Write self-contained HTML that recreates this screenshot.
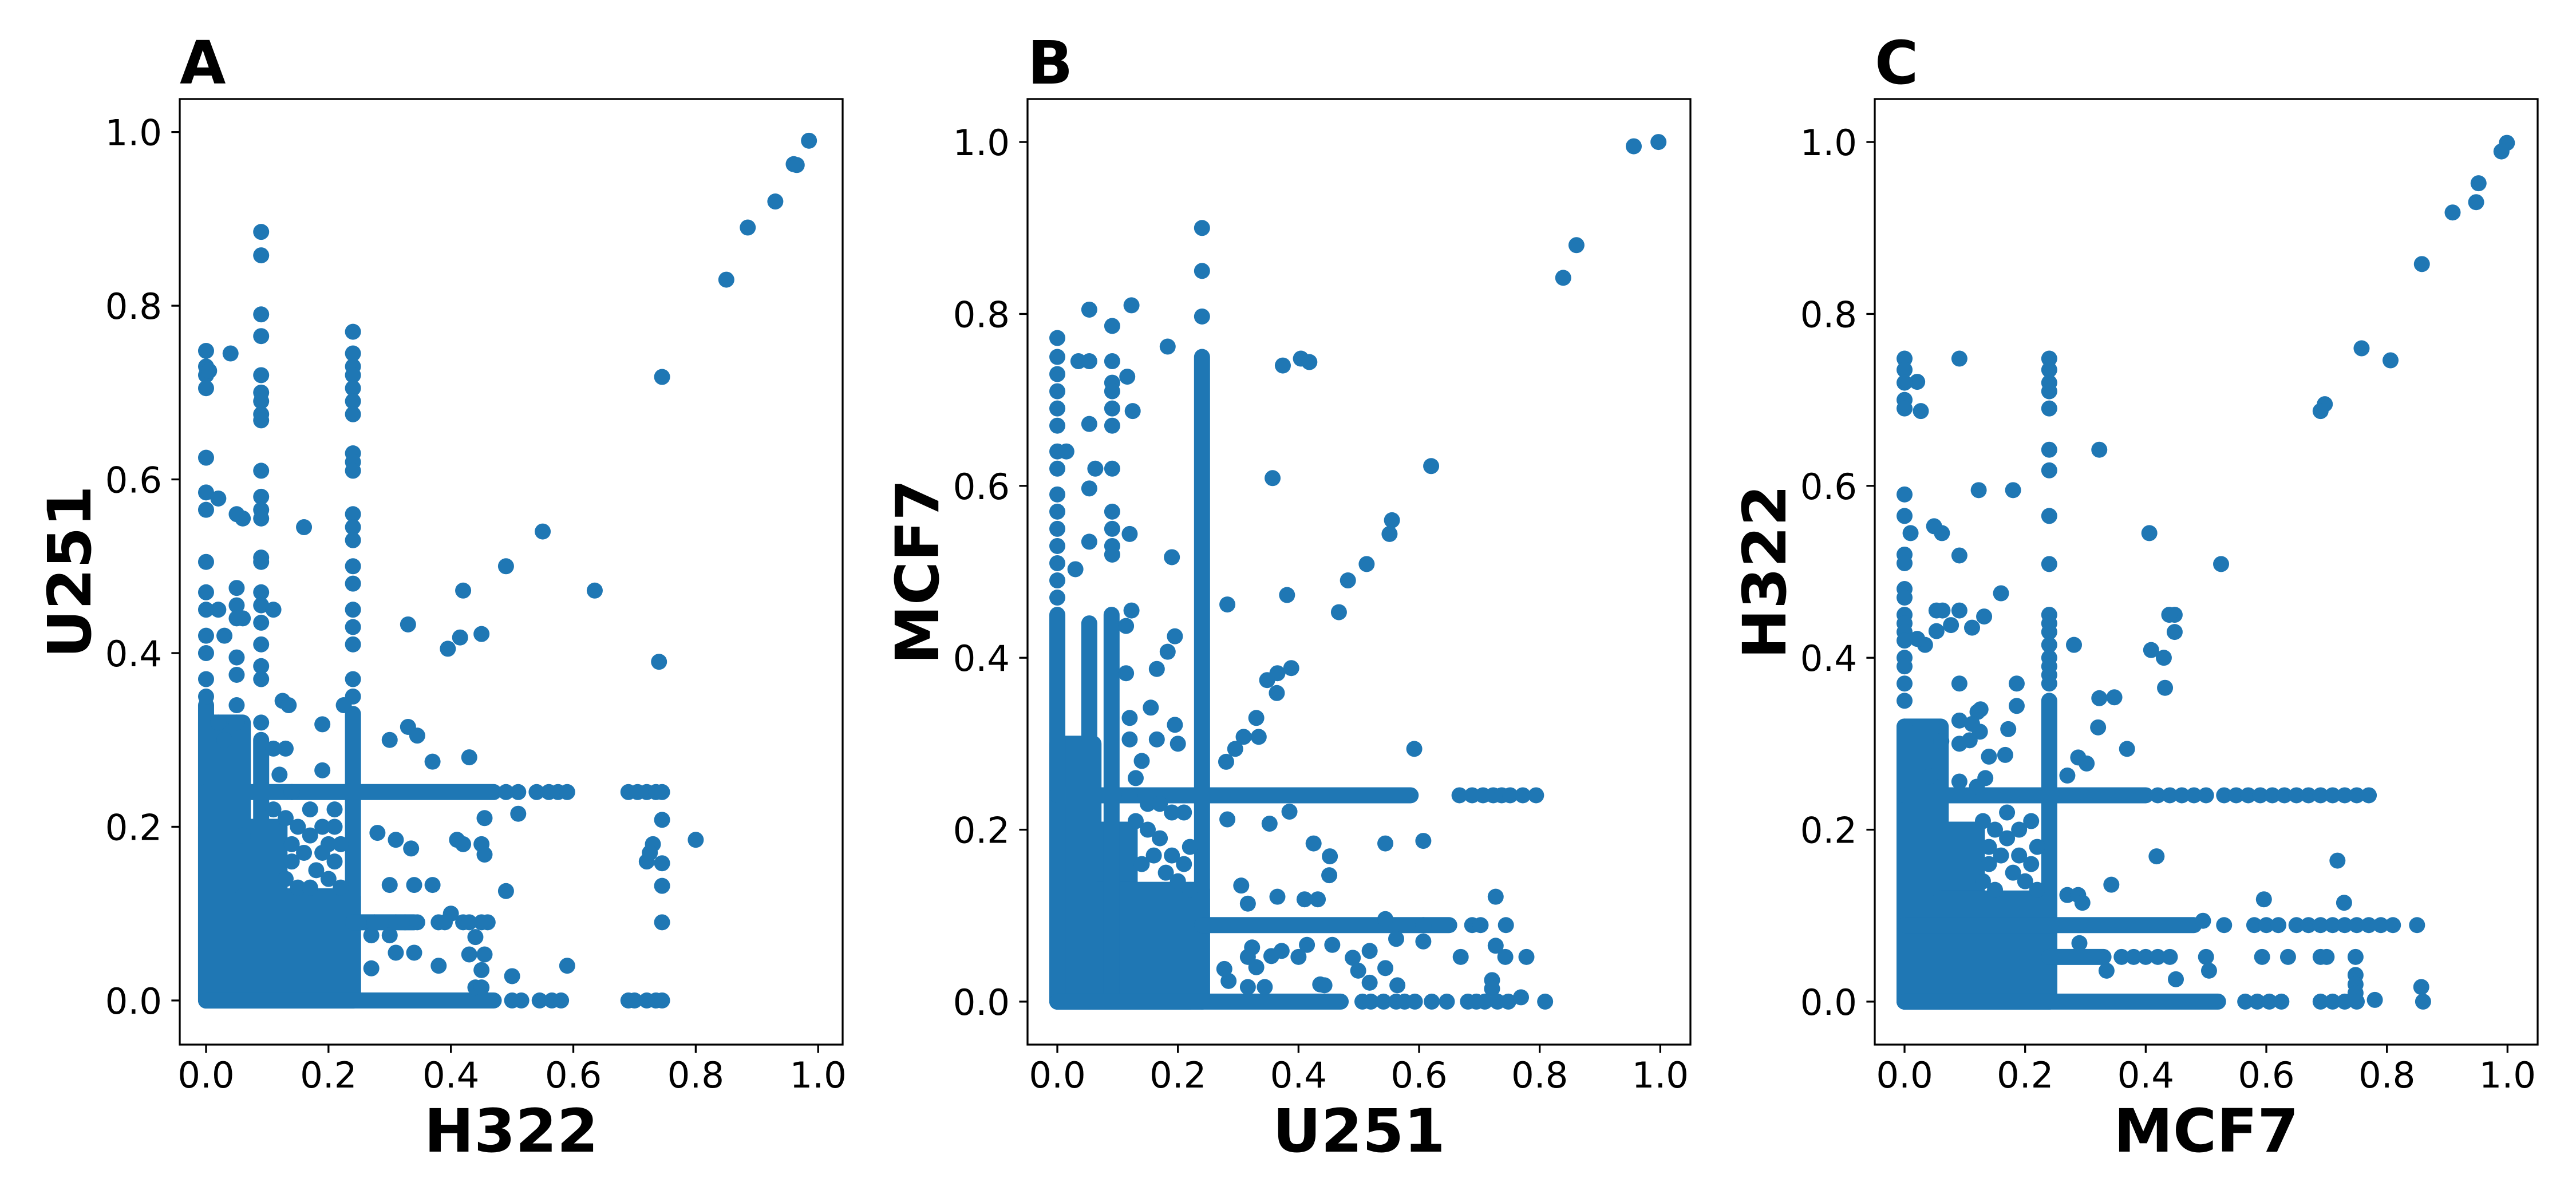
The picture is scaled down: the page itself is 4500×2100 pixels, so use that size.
<!DOCTYPE html>
<html><head><meta charset="utf-8">
<style>
html,body{margin:0;padding:0;background:#fff;}
svg{display:block;}
text{font-family:"DejaVu Sans","Liberation Sans",sans-serif;fill:#000;}
</style></head>
<body>
<svg id="fig" width="4500" height="2100" viewBox="0 0 4500 2100" xmlns="http://www.w3.org/2000/svg"></svg>
<script>
// ---------- DATA ----------
const ticks = [0, 0.2, 0.4, 0.6, 0.8, 1.0];
const tickLabels = ["0.0", "0.2", "0.4", "0.6", "0.8", "1.0"];

// Panel A: x = H322, y = U251
const blocksA = [[0,0.06,0,0.32],[0,0.24,0,0.09],[0,0.12,0,0.2],[0.06,0.24,0,0.12]];
const vLinesA = [[0,0,0.34],[0.09,0,0.3],[0.24,0,0.33]];
const hLinesA = [[0.24,0,0.47],[0,0,0.47],[0.09,0.24,0.34]];
const pointsA = [
[0.09,0.885],[0.09,0.858],[0.09,0.79],[0.09,0.765],[0.09,0.72],[0.09,0.70],[0.09,0.69],[0.09,0.675],[0.09,0.668],[0.09,0.61],[0.09,0.58],[0.09,0.565],[0.09,0.555],[0.09,0.51],[0.09,0.505],[0.09,0.47],[0.09,0.455],[0.09,0.435],[0.09,0.41],[0.09,0.385],[0.09,0.37],[0.09,0.32],
[0.24,0.77],[0.24,0.745],[0.24,0.73],[0.24,0.72],[0.24,0.705],[0.24,0.69],[0.24,0.675],[0.24,0.63],[0.24,0.62],[0.24,0.61],[0.24,0.56],[0.24,0.545],[0.24,0.53],[0.24,0.50],[0.24,0.48],[0.24,0.45],[0.24,0.43],[0.24,0.41],[0.24,0.37],[0.24,0.35],
[0,0.748],[0,0.73],[0,0.72],[0,0.705],[0,0.625],[0,0.585],[0,0.565],[0,0.505],[0,0.47],[0,0.45],[0,0.42],[0,0.40],[0,0.37],[0,0.35],
[0.04,0.745],[0.005,0.725],[0.02,0.578],[0.05,0.56],[0.06,0.555],[0.16,0.545],[0.55,0.54],[0.49,0.50],[0.42,0.472],[0.635,0.472],[0.33,0.433],[0.45,0.422],[0.415,0.418],[0.395,0.405],[0.745,0.718],[0.74,0.39],
[0.85,0.83],[0.885,0.89],[0.93,0.92],[0.96,0.963],[0.965,0.962],[0.985,0.99],
[0.02,0.45],[0.03,0.42],[0.05,0.475],[0.05,0.455],[0.05,0.44],[0.06,0.44],[0.05,0.395],[0.05,0.375],[0.05,0.34],[0.05,0.32],[0.11,0.45],[0.125,0.345],[0.135,0.34],[0.19,0.318],[0.225,0.34],[0.33,0.315],[0.345,0.305],[0.19,0.265],[0.37,0.275],[0.43,0.28],[0.3,0.30],
[0.28,0.193],[0.31,0.185],[0.335,0.175],[0.41,0.185],[0.42,0.18],[0.45,0.18],[0.455,0.168],[0.455,0.21],[0.51,0.215],[0.3,0.133],[0.34,0.133],[0.37,0.133],[0.49,0.126],[0.40,0.10],[0.38,0.09],[0.42,0.09],[0.45,0.09],[0.44,0.073],[0.43,0.053],[0.455,0.053],[0.45,0.035],[0.34,0.055],[0.31,0.055],[0.27,0.075],[0.30,0.075],[0.27,0.037],[0.38,0.04],[0.59,0.04],[0.50,0.028],
[0.80,0.185],[0.745,0.208],[0.73,0.18],[0.72,0.16],[0.745,0.158],[0.745,0.132],[0.745,0.09],[0.725,0.17],[0.44,0.015],[0.45,0.015],
[0.49,0.24],[0.51,0.24],[0.54,0.24],[0.56,0.24],[0.575,0.24],[0.59,0.24],[0.69,0.24],[0.705,0.24],[0.72,0.24],[0.735,0.24],[0.745,0.24],
[0.50,0],[0.515,0],[0.545,0],[0.565,0],[0.58,0],[0.69,0],[0.70,0],[0.72,0],[0.735,0],[0.745,0],
[0.275,0.09],[0.31,0.09],[0.325,0.09],[0.345,0.09],[0.39,0.09],[0.43,0.09],[0.46,0.09],
[0.17,0.22],[0.2,0.18],[0.19,0.2],[0.21,0.2],[0.14,0.24],[0.13,0.29],[0.11,0.29],[0.03,0.3],[0.02,0.32],[0.06,0.19],
[0.13,0.21],[0.15,0.2],[0.17,0.19],[0.19,0.17],[0.21,0.16],[0.16,0.17],[0.14,0.16],[0.18,0.15],[0.2,0.14],[0.22,0.13],[0.13,0.14],[0.15,0.13],[0.22,0.18],[0.17,0.13],[0.14,0.18],[0.21,0.22],[0.12,0.26],[0.11,0.22]
];

// Panel B: x = U251, y = MCF7
const blocksB = [[0,0.22,0,0.1],[0,0.06,0,0.3],[0,0.12,0,0.2],[0.06,0.24,0,0.13]];
const vLinesB = [[0,0,0.45],[0.053,0,0.44],[0.09,0,0.45],[0.24,0,0.75]];
const hLinesB = [[0.24,0,0.586],[0,0,0.47],[0.089,0.24,0.65]];
const pointsB = [
[0.956,0.995],[0.997,1.0],[0.861,0.88],[0.839,0.842],[0.24,0.90],[0.24,0.85],[0.24,0.797],[0.053,0.805],[0.091,0.786],[0.123,0.81],[0,0.772],[0.183,0.762],[0.374,0.74],[0.404,0.748],[0.418,0.744],[0.62,0.623],[0.357,0.609],[0.555,0.56],[0.551,0.544],[0.513,0.509],[0.482,0.49],[0.467,0.453],[0.381,0.473],[0.282,0.462],[0.592,0.294],[0.19,0.517],[0.12,0.544],[0.053,0.535],[0.03,0.503],[0.063,0.62],[0.053,0.597],[0.116,0.727],[0.125,0.687],[0.053,0.672],[0.035,0.745],[0.053,0.745],[0.091,0.745],[0.015,0.64],
[0.388,0.388],[0.365,0.382],[0.348,0.374],[0.364,0.359],[0.33,0.33],[0.334,0.308],[0.309,0.308],[0.295,0.294],[0.28,0.279],[0.195,0.425],[0.183,0.407],[0.165,0.387],[0.155,0.342],[0.195,0.322],[0.12,0.33],[0.12,0.305],[0.165,0.305],[0.2,0.3],[0.114,0.382],[0.114,0.437],[0.123,0.455],
[0.282,0.212],[0.352,0.207],[0.385,0.221],[0.425,0.184],[0.452,0.169],[0.451,0.147],[0.544,0.184],[0.607,0.187],[0.727,0.122],[0.305,0.135],[0.365,0.122],[0.41,0.119],[0.432,0.119],[0.316,0.114],[0.544,0.096],
[0.607,0.089],[0.688,0.089],[0.702,0.089],[0.744,0.089],[0.562,0.073],[0.607,0.07],[0.727,0.065],[0.743,0.052],[0.778,0.052],[0.669,0.052],[0.518,0.059],[0.49,0.051],[0.499,0.036],[0.544,0.039],[0.518,0.022],[0.564,0.019],[0.721,0.025],[0.721,0.015],[0.456,0.066],[0.414,0.066],[0.323,0.063],[0.316,0.052],[0.33,0.04],[0.355,0.053],[0.372,0.059],[0.4,0.052],[0.436,0.02],[0.443,0.019],[0.316,0.017],[0.344,0.017],[0.284,0.024],[0.277,0.038],
[0.506,0],[0.52,0],[0.541,0],[0.562,0],[0.576,0],[0.593,0],[0.621,0],[0.646,0],[0.681,0],[0.695,0],[0.709,0],[0.73,0],[0.748,0],[0.769,0.005],[0.809,0],
[0.667,0.24],[0.688,0.24],[0.706,0.24],[0.723,0.24],[0.737,0.24],[0.751,0.24],[0.772,0.24],[0.794,0.24],
[0,0.75],[0,0.73],[0,0.71],[0,0.69],[0,0.67],[0,0.64],[0,0.62],[0,0.59],[0,0.57],[0,0.55],[0,0.53],[0,0.51],[0,0.49],[0,0.47],
[0.091,0.72],[0.091,0.71],[0.091,0.69],[0.091,0.67],[0.091,0.62],[0.091,0.57],[0.091,0.55],[0.091,0.53],[0.091,0.52],
[0.13,0.21],[0.15,0.2],[0.17,0.19],[0.19,0.17],[0.21,0.16],[0.16,0.17],[0.14,0.16],[0.18,0.15],[0.2,0.14],[0.22,0.13],[0.13,0.26],[0.15,0.23],[0.22,0.18],[0.17,0.23],[0.14,0.28],[0.21,0.22],[0.12,0.24],[0.19,0.22]
];

// Panel C: x = MCF7, y = H322
const blocksC = [[0,0.24,0,0.1],[0,0.06,0,0.32],[0,0.12,0,0.2],[0.06,0.24,0,0.12]];
const vLinesC = [[0,0,0.32],[0.24,0,0.35]];
const hLinesC = [[0.24,0,0.4],[0.089,0,0.48],[0,0,0.52],[0.052,0.24,0.33]];
const pointsC = [
[0.999,0.999],[0.99,0.989],[0.952,0.952],[0.948,0.93],[0.909,0.918],[0.858,0.858],[0.758,0.76],[0.806,0.746],[0.697,0.695],[0.69,0.687],[0.525,0.509],[0.406,0.545],[0.323,0.642],[0.24,0.642],[0.24,0.618],[0.24,0.565],[0.24,0.509],[0.091,0.748],[0.123,0.595],[0.18,0.595],[0.16,0.475],[0.049,0.553],[0.062,0.545],[0.091,0.519],[0.01,0.545],[0,0.565],[0,0.59],[0.021,0.721],[0.027,0.687],
[0.448,0.45],[0.439,0.45],[0.448,0.43],[0.409,0.409],[0.43,0.4],[0.432,0.365],[0.281,0.415],[0.186,0.37],[0.186,0.344],[0.323,0.353],[0.348,0.354],[0.321,0.319],[0.369,0.294],[0.288,0.284],[0.302,0.277],[0.27,0.263],[0.418,0.169],[0.718,0.164],[0.343,0.136],[0.596,0.119],[0.729,0.115],[0.27,0.124],[0.288,0.124],[0.295,0.115],
[0.121,0.337],[0.125,0.314],[0.172,0.317],[0.14,0.285],[0.167,0.287],[0.061,0.303],[0.132,0.448],[0.112,0.435],[0.077,0.438],[0.053,0.431],[0.053,0.455],[0.063,0.455],[0.091,0.455],[0.034,0.415],[0.021,0.422],[0.091,0.37],[0.091,0.327],[0.112,0.323],[0.126,0.34],[0.091,0.3],[0.108,0.304],[0.042,0.262],[0.091,0.256],[0.134,0.26],
[0.24,0.748],[0.24,0.735],[0.24,0.72],[0.24,0.71],[0.24,0.69],[0.24,0.45],[0.24,0.44],[0.24,0.43],[0.24,0.415],[0.24,0.40],[0.24,0.39],[0.24,0.38],[0.24,0.37],
[0,0.748],[0,0.735],[0,0.72],[0,0.70],[0,0.69],[0,0.52],[0,0.51],[0,0.48],[0,0.47],[0,0.45],[0,0.44],[0,0.43],[0,0.42],[0,0.40],[0,0.39],[0,0.37],[0,0.35],
[0.42,0.24],[0.44,0.24],[0.46,0.24],[0.48,0.24],[0.5,0.24],[0.53,0.24],[0.55,0.24],[0.57,0.24],[0.59,0.24],[0.61,0.24],[0.63,0.24],[0.65,0.24],[0.67,0.24],[0.69,0.24],[0.71,0.24],[0.73,0.24],[0.75,0.24],[0.77,0.24],
[0.53,0.089],[0.58,0.089],[0.6,0.089],[0.62,0.089],[0.65,0.089],[0.67,0.089],[0.69,0.089],[0.71,0.089],[0.73,0.089],[0.75,0.089],[0.77,0.089],[0.79,0.089],[0.81,0.089],[0.85,0.089],[0.495,0.094],
[0.36,0.052],[0.38,0.052],[0.40,0.052],[0.42,0.052],[0.44,0.052],
[0.5,0.052],[0.593,0.052],[0.636,0.052],[0.69,0.052],[0.7,0.052],[0.748,0.052],[0.335,0.036],[0.505,0.036],[0.45,0.026],[0.748,0.031],[0.748,0.02],[0.748,0.01],[0.857,0.017],[0.29,0.068],
[0.565,0],[0.585,0],[0.605,0],[0.625,0],[0.69,0],[0.71,0],[0.73,0],[0.75,0],[0.78,0.002],[0.86,0],
[0.13,0.21],[0.15,0.2],[0.17,0.19],[0.19,0.17],[0.21,0.16],[0.16,0.17],[0.14,0.16],[0.18,0.15],[0.2,0.14],[0.22,0.13],[0.13,0.14],[0.15,0.13],[0.22,0.18],[0.17,0.22],[0.14,0.18],[0.21,0.21],[0.12,0.25],[0.19,0.2]
];

// ---------- RENDER ----------
const NS = "http://www.w3.org/2000/svg";
const svg = document.getElementById("fig");
const COLOR = "#1f77b4";
const R = 14;

function mk(tag, attrs, parent) {
  const e = document.createElementNS(NS, tag);
  for (const k in attrs) e.setAttribute(k, attrs[k]);
  (parent || svg).appendChild(e);
  return e;
}

const panels = [
  {id:"a", letter:"A", left:314, top:173, w:1158, h:1652, xr:[-0.043,1.040], yr:[-0.0508,1.038], xl:"H322", yl:"U251", blocks:blocksA, vl:vLinesA, hl:hLinesA, pts:pointsA},
  {id:"b", letter:"B", left:1795, top:173, w:1158, h:1652, xr:[-0.0494,1.05], yr:[-0.05,1.05], xl:"U251", yl:"MCF7", blocks:blocksB, vl:vLinesB, hl:hLinesB, pts:pointsB},
  {id:"c", letter:"C", left:3275, top:173, w:1158, h:1652, xr:[-0.0494,1.05], yr:[-0.05,1.05], xl:"MCF7", yl:"H322", blocks:blocksC, vl:vLinesC, hl:hLinesC, pts:pointsC}
];

panels.forEach(p => {
  const g = mk("g", {});
  
  
  const sx = v => p.left + (v - p.xr[0]) / (p.xr[1] - p.xr[0]) * p.w;
  const sy = v => p.top + p.h - (v - p.yr[0]) / (p.yr[1] - p.yr[0]) * p.h;
  const bottom = p.top + p.h;

  const clipId = "clip-" + p.id;
  const defs = mk("defs", {}, g);
  const cp = mk("clipPath", {id: clipId}, defs);
  mk("rect", {x:p.left, y:p.top, width:p.w, height:p.h}, cp);
  const marks = mk("g", {"clip-path":"url(#"+clipId+")"}, g);
  
  

  p.blocks.forEach(b => {
    const r = mk("rect", {x:sx(b[0])-R, y:sy(b[3])-R, width:sx(b[1])-sx(b[0])+2*R, height:sy(b[2])-sy(b[3])+2*R, rx:R, fill:COLOR}, marks);
    
    
  });
  p.vl.forEach(l => {
    const e = mk("line", {x1:sx(l[0]), x2:sx(l[0]), y1:sy(l[1]), y2:sy(l[2]), stroke:COLOR, "stroke-width":2*R, "stroke-linecap":"round"}, marks);
    
    
  });
  p.hl.forEach(l => {
    const e = mk("line", {y1:sy(l[0]), y2:sy(l[0]), x1:sx(l[1]), x2:sx(l[2]), stroke:COLOR, "stroke-width":2*R, "stroke-linecap":"round"}, marks);
    
    
  });
  p.pts.forEach(pt => {
    const c = mk("circle", {cx:sx(pt[0]), cy:sy(pt[1]), r:R, fill:COLOR}, marks);
    
    
  });

  const frame = mk("rect", {x:p.left, y:p.top, width:p.w, height:p.h, fill:"none", stroke:"#000", "stroke-width":3.3}, g);
  
  

  ticks.forEach((t, i) => {
    const x = sx(t);
    const tk = mk("line", {x1:x, x2:x, y1:bottom, y2:bottom+14.6, stroke:"#000", "stroke-width":3.3}, g);
    
    
    const tl = mk("text", {x:x, y:bottom+75, "text-anchor":"middle", "font-size":62.5}, g);
    tl.textContent = tickLabels[i];
    
    
    const y = sy(t);
    const ty = mk("line", {x1:p.left-14.6, x2:p.left, y1:y, y2:y, stroke:"#000", "stroke-width":3.3}, g);
    
    
    const yl = mk("text", {x:p.left-31, y:y+23, "text-anchor":"end", "font-size":62.5}, g);
    yl.textContent = tickLabels[i];
    
    
  });

  const xt = mk("text", {x:p.left+p.w/2, y:2012, "text-anchor":"middle", "font-size":104, "font-weight":"bold"}, g);
  xt.textContent = p.xl;
  
  
  const cy = p.top + p.h/2, cx = p.left - 156;
  const yt = mk("text", {x:cx, y:cy, "text-anchor":"middle", "font-size":104, "font-weight":"bold", transform:"rotate(-90 "+cx+" "+cy+")"}, g);
  yt.textContent = p.yl;
  
  
  const lt = mk("text", {x:p.left, y:146, "font-size":104, "font-weight":"bold"}, g);
  lt.textContent = p.letter;
  
  
});
</script>
</body></html>
